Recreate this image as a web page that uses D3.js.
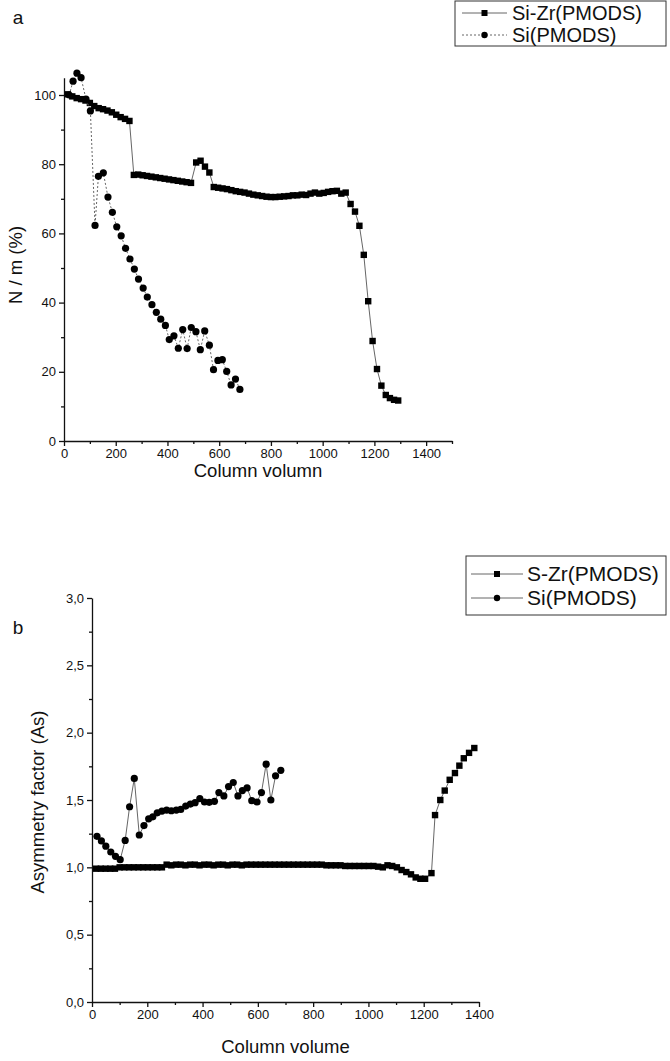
<!DOCTYPE html>
<html lang="en">

<head>
  <title>Column stability</title>
  <script src="https://cdn.jsdelivr.net/npm/d3@7"></script>
  <style>
    body { margin: 0; background: #fff; }
    text { font-family: "Liberation Sans", Arial, sans-serif; fill: #111; }
    .axis path, .axis line { stroke: #111; stroke-width: 1.3; }
  </style>
</head>

<body>
  <script>
    // panel a : N / m (%) against column volumn
    var aZrX = [15, 32, 49, 66, 83, 100, 117, 134, 151, 168, 185, 202, 219, 236, 253,
      270, 287, 304, 321, 338, 355, 372, 389, 406, 423, 440, 457, 474, 491,
      511, 528, 545, 562,
      579, 596, 613, 630, 647, 664, 681, 698, 715, 732, 749, 766, 783, 800, 817, 834, 851, 868,
      885, 902, 919, 936, 953, 970, 987, 1004, 1021, 1038, 1055, 1072, 1089,
      1108, 1125, 1142, 1159, 1176, 1193, 1210, 1227, 1244, 1260, 1276, 1292];
    var aZrY = [100.2, 99.6, 99.1, 98.8, 98.4, 97.7, 96.8, 96.2, 95.9, 95.5, 95.0, 94.3, 93.6, 93.1, 92.5,
      76.9, 77.0, 76.8, 76.6, 76.4, 76.2, 76.0, 75.8, 75.6, 75.4, 75.2, 75.0, 74.8, 74.6,
      80.5, 81.0, 79.3, 77.6,
      73.4, 73.2, 73.0, 72.8, 72.5, 72.2, 72.0, 71.8, 71.5, 71.2, 71.0, 70.8, 70.6, 70.5, 70.5, 70.6, 70.7, 70.8,
      71.0, 71.0, 71.2, 71.1, 71.5, 71.8, 71.5, 71.7, 72.0, 72.2, 72.3, 71.5, 71.8,
      68.5, 66.3, 62.2, 53.8, 40.4, 28.9, 20.8, 16.0, 13.3, 12.4, 11.9, 11.7];
    var aSiX = [20, 35, 50, 66, 85, 102, 120, 133, 152, 170, 187, 204, 221, 238, 255, 272, 288, 306, 322, 340,
      357, 374, 392, 407, 425, 442, 459, 476, 492, 510, 527, 544, 562, 578, 595, 612, 629, 646, 663, 680];
    var aSiY = [100.0, 104.0, 106.3, 105.0, 98.8, 95.4, 62.3, 76.5, 77.5, 70.5, 66.1, 61.9, 59.3, 55.7, 52.6, 49.7, 46.8, 44.2, 41.6, 39.4,
      37.2, 35.2, 33.4, 29.3, 30.4, 26.8, 32.2, 26.7, 32.8, 31.6, 26.4, 31.8, 27.7, 20.6, 23.3, 23.5, 20.1, 16.2, 17.9, 14.9];
    var aXTicks = [0, 200, 400, 600, 800, 1000, 1200, 1400];
    var aXMinor = [100, 300, 500, 700, 900, 1100, 1300, 1500];
    var aYTicks = [0, 20, 40, 60, 80, 100];
    var aYMinor = [10, 30, 50, 70, 90];
    var aLegend = ["Si-Zr(PMODS)", "Si(PMODS)"];

    // panel b : asymmetry factor against column volume
    var bZrX = [15, 32, 49, 66, 83, 100, 117, 134, 151, 168, 185, 202, 219, 236, 253,
      270, 287, 304, 321, 338, 355, 372, 389, 406, 423, 440, 457, 474, 491, 508, 525, 542, 559,
      576, 593, 610, 627, 644, 661, 678, 695, 712, 729, 746, 763, 780, 797, 814, 831, 848, 865,
      882, 899, 916, 933, 950, 967, 984, 1001, 1018, 1035, 1052, 1069, 1086, 1103,
      1120, 1137, 1154, 1171, 1188, 1205, 1228, 1241, 1260, 1276, 1294, 1313, 1329, 1345, 1364, 1383];
    var bZrY = [0.99, 0.99, 0.99, 0.99, 0.99, 1.0, 1.0, 1.0, 1.0, 1.0, 1.0, 1.0, 1.0, 1.0, 1.0,
      1.02, 1.015, 1.02, 1.02, 1.015, 1.02, 1.02, 1.015, 1.02, 1.02, 1.015, 1.02, 1.02, 1.015, 1.02, 1.02, 1.015, 1.02,
      1.02, 1.02, 1.02, 1.02, 1.02, 1.02, 1.02, 1.02, 1.02, 1.02, 1.02, 1.02, 1.02, 1.02, 1.02, 1.02, 1.015, 1.015,
      1.015, 1.015, 1.01, 1.01, 1.01, 1.01, 1.01, 1.01, 1.01, 1.005, 1.0, 1.015, 1.01, 1.0,
      0.98, 0.965, 0.948, 0.925, 0.915, 0.915, 0.957, 1.388, 1.50, 1.57, 1.65, 1.70, 1.755, 1.81, 1.85, 1.886];
    var bSiX = [18, 34, 50, 68, 85, 102, 120, 136, 153, 171, 188, 205, 220, 236, 253, 270, 287, 305, 321, 339,
      356, 373, 390, 407, 424, 443, 459, 477, 494, 511, 528, 544, 561, 578, 597, 613, 630, 647, 664, 683];
    var bSiY = [1.23, 1.196, 1.157, 1.114, 1.082, 1.057, 1.20, 1.45, 1.66, 1.24, 1.31, 1.36, 1.375, 1.405, 1.418, 1.425, 1.42, 1.425, 1.43, 1.455,
      1.47, 1.48, 1.51, 1.485, 1.483, 1.49, 1.555, 1.53, 1.60, 1.63, 1.53, 1.57, 1.59, 1.495, 1.485, 1.555, 1.766, 1.50, 1.68, 1.72];
    var bXTicks = [0, 200, 400, 600, 800, 1000, 1200, 1400];
    var bXMinor = [100, 300, 500, 700, 900, 1100, 1300];
    var bYTicks = [0, 0.5, 1.0, 1.5, 2.0, 2.5, 3.0];
    var bYMinor = [0.25, 0.75, 1.25, 1.75, 2.25, 2.75];
    var bLegend = ["S-Zr(PMODS)", "Si(PMODS)"];

    var w = 670;
    var h = 1061;
    var svg = d3.select("body").append("svg")
      .attr("width", w)
      .attr("height", h);

    var comma = function (d) { return d3.format(".1f")(d).replace(".", ","); };

    function zip(xs, ys) {
      return xs.map(function (d, i) { return [d, ys[i]]; });
    }

    function drawAxes(g, x, y, p) {
      var yBase = y.range()[0];
      var xBase = x.range()[0];
      g.append("g").attr("class", "axis")
        .attr("transform", "translate(0," + yBase + ")")
        .call(d3.axisBottom(x).tickValues(p.xMinor).tickSize(3).tickFormat(""))
        .select(".domain").remove();
      g.append("g").attr("class", "axis")
        .attr("transform", "translate(" + xBase + ",0)")
        .call(d3.axisLeft(y).tickValues(p.yMinor).tickSize(3).tickFormat(""))
        .select(".domain").remove();
      var xa = g.append("g").attr("class", "axis")
        .attr("transform", "translate(0," + yBase + ")")
        .call(d3.axisBottom(x).tickValues(p.xTicks).tickSize(5).tickSizeOuter(0).tickPadding(3)
          .tickFormat(d3.format("d")));
      xa.selectAll("text").style("font-size", "13px");
      var ya = g.append("g").attr("class", "axis")
        .attr("transform", "translate(" + xBase + ",0)")
        .call(d3.axisLeft(y).tickValues(p.yTicks).tickSize(5).tickSizeOuter(0).tickPadding(3)
          .tickFormat(p.yFormat));
      ya.selectAll("text").style("font-size", "13px");

      g.append("text")
        .attr("x", (x.range()[0] + x.range()[1]) / 2)
        .attr("y", yBase + p.xTitleDy)
        .attr("text-anchor", "middle")
        .style("font-size", "18.5px")
        .text(p.xTitle);
      g.append("text")
        .attr("transform", "translate(" + p.yTitleX + "," + p.yTitleY + ") rotate(-90)")
        .attr("text-anchor", "middle")
        .style("font-size", "18.5px")
        .text(p.yTitle);
      g.append("text")
        .attr("x", 18)
        .attr("y", p.letterY)
        .attr("text-anchor", "middle")
        .style("font-size", "19px")
        .text(p.letter);
    }

    function drawSeries(g, x, y, pts, shape, dash) {
      g.append("path")
        .datum(pts)
        .attr("fill", "none")
        .attr("stroke", "#666")
        .attr("stroke-width", 1)
        .attr("stroke-dasharray", dash)
        .attr("d", d3.line().x(function (d) { return x(d[0]); }).y(function (d) { return y(d[1]); }));
      if (shape === "square") {
        g.selectAll(null).data(pts).enter().append("rect")
          .attr("x", function (d) { return x(d[0]) - 3.2; })
          .attr("y", function (d) { return y(d[1]) - 3.2; })
          .attr("width", 6.4).attr("height", 6.4)
          .attr("fill", "#000");
      } else {
        g.selectAll(null).data(pts).enter().append("circle")
          .attr("cx", function (d) { return x(d[0]); })
          .attr("cy", function (d) { return y(d[1]); })
          .attr("r", 3.6)
          .attr("fill", "#000");
      }
    }

    function drawLegend(g, box, labels, dashes) {
      g.append("rect")
        .attr("x", box.x).attr("y", box.y)
        .attr("width", box.w).attr("height", box.h)
        .attr("fill", "#fff").attr("stroke", "#333").attr("stroke-width", 1);
      labels.forEach(function (lab, i) {
        var cy = box.y + box.row0 + i * box.step;
        var x0 = box.x + box.pad;
        g.append("line")
          .attr("x1", x0).attr("x2", x0 + box.len)
          .attr("y1", cy).attr("y2", cy)
          .attr("stroke", "#666").attr("stroke-dasharray", dashes[i]);
        if (i === 0) {
          g.append("rect").attr("x", x0 + box.len / 2 - 3).attr("y", cy - 3)
            .attr("width", 6).attr("height", 6).attr("fill", "#000");
        } else {
          g.append("circle").attr("cx", x0 + box.len / 2).attr("cy", cy)
            .attr("r", 3.2).attr("fill", "#000");
        }
        g.append("text")
          .attr("x", x0 + box.len + box.gap)
          .attr("y", cy)
          .attr("dy", "0.35em")
          .style("font-size", box.font)
          .text(lab);
      });
    }

    // panel a
    var ax = d3.scaleLinear().domain([0, 1500]).range([64, 452]);
    var ay = d3.scaleLinear().domain([0, 105]).range([441, 441 - 105 * 3.46]);
    var ga = svg.append("g");
    drawAxes(ga, ax, ay, {
      xTicks: aXTicks, xMinor: aXMinor, yTicks: aYTicks, yMinor: aYMinor,
      yFormat: d3.format("d"), xTitle: "Column volumn", xTitleDy: 36, yTitle: "N / m (%)",
      yTitleX: 22, yTitleY: 265, letter: "a", letterY: 24
    });
    drawSeries(ga, ax, ay, zip(aZrX, aZrY), "square", null);
    drawSeries(ga, ax, ay, zip(aSiX, aSiY), "circle", "2,2");
    drawLegend(ga, { x: 455, y: 1, w: 211, h: 45, row0: 12, step: 22, pad: 7, len: 45, gap: 5, font: "20px" },
      aLegend, [null, "2,2"]);

    // panel b
    var bx = d3.scaleLinear().domain([0, 1400]).range([92, 479]);
    var by = d3.scaleLinear().domain([0, 3]).range([1002, 598]);
    var gb = svg.append("g");
    drawAxes(gb, bx, by, {
      xTicks: bXTicks, xMinor: bXMinor, yTicks: bYTicks, yMinor: bYMinor,
      yFormat: comma, xTitle: "Column volume", xTitleDy: 51, yTitle: "Asymmetry factor (As)",
      yTitleX: 44, yTitleY: 802, letter: "b", letterY: 634
    });
    drawSeries(gb, bx, by, zip(bZrX, bZrY), "square", null);
    drawSeries(gb, bx, by, zip(bSiX, bSiY), "circle", null);
    drawLegend(gb, { x: 466, y: 556, w: 200, h: 59, row0: 18, step: 24, pad: 5, len: 52, gap: 4, font: "21px" },
      bLegend, [null, null]);
  </script>
</body>

</html>
